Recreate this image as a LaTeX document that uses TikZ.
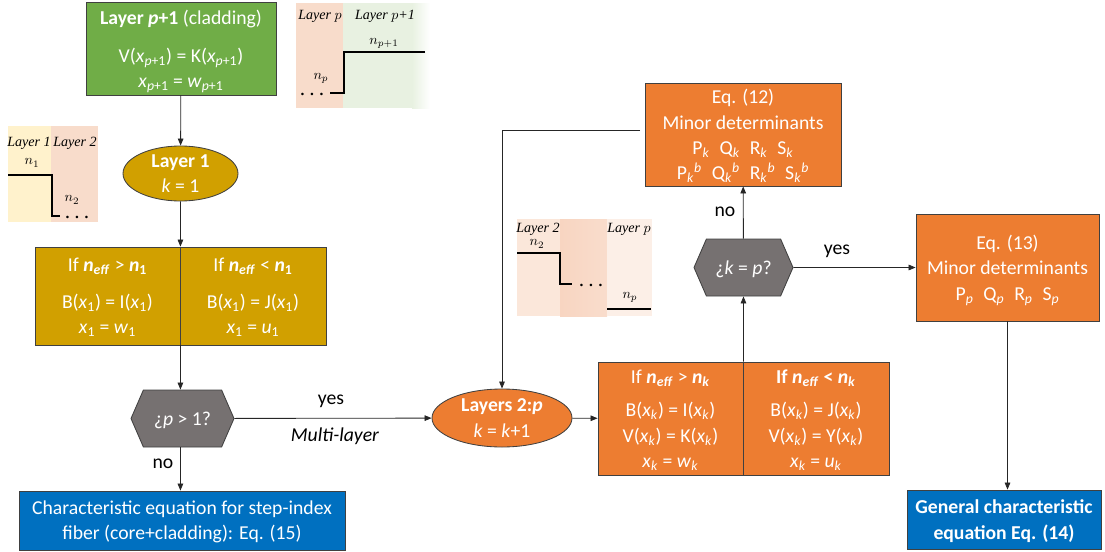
\documentclass[tikz,border=0pt]{standalone}
\usepackage{fontspec}
\setmainfont{Carlito}
\newfontfamily\insetfont{Liberation Serif}
\usetikzlibrary{arrows.meta,shapes.geometric,shapes.symbols}

\definecolor{cladgreen}{HTML}{70AD47}
\definecolor{coregold}{HTML}{D1A000}
\definecolor{layerorange}{HTML}{ED7D31}
\definecolor{askgray}{HTML}{767171}
\definecolor{resultblue}{HTML}{0070C0}
\definecolor{insetsalmon}{HTML}{F8DCCB}
\definecolor{insetgreen}{HTML}{E8F1E1}
\definecolor{insetyellow}{HTML}{FFF2CC}
\definecolor{midleft}{HTML}{FBE7DA}
\definecolor{midcentre}{HTML}{F8D5C1}
\definecolor{midright}{HTML}{FCEFE7}

\newcommand{\pxu}{0.025cm}
\newcommand{\kk}{\textsubscript{\textit{k}}}
\newcommand{\pp}{\textsubscript{\textit{p}}}

\begin{document}
\begin{tikzpicture}[x=0.025cm,y=-0.025cm,
    sized/.style 2 args={minimum width=#1*\pxu, minimum height=#2*\pxu},
    flowbox/.style={draw=black!75, line width=0.6pt, text=white, align=center,
      inner sep=0pt, text depth=0pt, font=\fontsize{14}{18}\selectfont},
    layerball/.style={ellipse, flowbox},
    decision/.style={signal, signal to=east and west, signal pointer angle=133,
      flowbox, fill=askgray},
    conn/.style={draw=black!85, line width=0.6pt, -{Triangle[length=5pt,width=4pt]}},
    flowlabel/.style={inner sep=0pt, font=\fontsize{14}{18}\selectfont},
    insetlabel/.style={inner sep=0pt, font=\fontsize{10}{10}\selectfont\insetfont\itshape},
    indexlabel/.style={inner sep=0pt, font=\fontsize{10}{10}\selectfont},
    dotslabel/.style={inner sep=0pt, anchor=base, font=\fontsize{11}{11}\selectfont\insetfont\bfseries},
    stepline/.style={line width=1.5pt}]
  \useasboundingbox (0,0) rectangle (1105,552);

  % refractive index sketches
  \fill[insetsalmon] (296,3) rectangle (343,108);
  \fill[insetgreen] (343,3) rectangle (412,108);
  \shade[left color=insetgreen,right color=white] (412,3) rectangle (430,108);
  \node[insetlabel] (labp) at (320,16) {Layer $p$};
  \node[insetlabel] (labpp) at (385,16) {Layer $p$+1};
  \node[indexlabel] (npp) at (384,43) {$n_{p+1}$};
  \node[indexlabel] (np) at (321,78) {$n_p$};
  \node[dotslabel] (dotsa) at (312,95) {.\hspace{4pt}.\hspace{4pt}.};
  \draw[stepline] (425,52) -- (344,52) -- (344,93) -- (330,93);

  \fill[insetyellow] (8,126) rectangle (51,222);
  \fill[insetsalmon] (51,126) rectangle (98,222);
  \node[insetlabel] (lab1) at (29,143) {Layer 1};
  \node[insetlabel] (lab2) at (75,143) {Layer 2};
  \node[indexlabel] (n1) at (32,163) {$n_1$};
  \node[indexlabel] (n2) at (72,200) {$n_2$};
  \node[dotslabel] (dotsb) at (77,218) {.\hspace{4pt}.\hspace{4pt}.};
  \draw[stepline] (8,175) -- (52,175) -- (52,216) -- (60,216);

  \fill[midleft] (517,219) rectangle (560,316);
  \shade[left color=midcentre,right color=midcentre!70!midright] (560,219) rectangle (607,316);
  \fill[midright] (607,219) rectangle (652,316);
  \node[insetlabel] (lab2b) at (538,229) {Layer 2};
  \node[insetlabel] (labpb) at (629,229) {Layer $p$};
  \node[indexlabel] (n2b) at (537,244) {$n_2$};
  \node[indexlabel] (npb) at (630,297) {$n_p$};
  \node[dotslabel] (dotsc) at (591,286) {.\hspace{4pt}.\hspace{4pt}.};
  \draw[stepline] (517,253) -- (560,253) -- (560,284) -- (572,284);
  \draw[stepline] (607,309) -- (651,309);

  % first layer and cladding
  \node[flowbox, fill=cladgreen, sized={190}{93}] (clad) at (181,48.5)
    {\textbf{Layer \textit{p}+1} (cladding)\\[9pt]
     V(\textit{x}\textsubscript{\textit{p}+1}) = K(\textit{x}\textsubscript{\textit{p}+1})\\
     \textit{x}\textsubscript{\textit{p}+1} = \textit{w}\textsubscript{\textit{p}+1}};
  \node[layerball, fill=coregold, sized={115}{55}] (one) at (180.5,173.5)
    {\textbf{Layer 1}\\\textit{k} = 1};
  \node[flowbox, fill=coregold, sized={145}{98}] (onegt) at (107.5,296)
    {If \textbf{\textit{n}\textsubscript{\textit{eff}}} > \textbf{\textit{n}\textsubscript{1}}\\[8pt]
     B(\textit{x}\textsubscript{1}) = I(\textit{x}\textsubscript{1})\\
     \textit{x}\textsubscript{1} = \textit{w}\textsubscript{1}};
  \node[flowbox, fill=coregold, sized={146}{98}] (onelt) at (253,296)
    {If \textbf{\textit{n}\textsubscript{\textit{eff}}} < \textbf{\textit{n}\textsubscript{1}}\\[8pt]
     B(\textit{x}\textsubscript{1}) = J(\textit{x}\textsubscript{1})\\
     \textit{x}\textsubscript{1} = \textit{u}\textsubscript{1}};
  \node[decision, sized={103}{57}] (multi) at (182.5,418.5) {¿\textit{p} > 1?};
  \node[flowbox, fill=resultblue, sized={326}{59}] (stepfib) at (182,520.5)
    {Characteristic equation for step-index\\fiber (core+cladding): Eq. (15)};

  % inner layers
  \node[layerball, fill=layerorange, sized={140}{58}] (inner) at (502,418)
    {\textbf{Layers 2:\textit{p}}\\\textit{k} = \textit{k}+1};
  \node[flowbox, fill=layerorange, sized={145}{113}] (kgt) at (670.5,418.5)
    {If \textbf{\textit{n}\textsubscript{\textit{eff}}} > \textbf{\textit{n}\textsubscript{\textit{k}}}\\[6pt]
     B(\textit{x}\kk) = I(\textit{x}\kk)\\
     V(\textit{x}\kk) = K(\textit{x}\kk)\\
     \textit{x}\kk{} = \textit{w}\kk};
  \node[flowbox, fill=layerorange, sized={146}{113}] (klt) at (816,418.5)
    {\textbf{If \textit{n}\textsubscript{\textit{eff}} < \textit{n}\textsubscript{\textit{k}}}\\[6pt]
     B(\textit{x}\kk) = J(\textit{x}\kk)\\
     V(\textit{x}\kk) = Y(\textit{x}\kk)\\
     \textit{x}\kk{} = \textit{u}\kk};
  \node[decision, sized={99}{57}] (last) at (743.5,267.5) {¿\textit{k} = \textit{p}?};
  \node[flowbox, fill=layerorange, sized={196}{103}] (eqminor) at (743,134.5)
    {Eq. (12)\\Minor determinants\\
     P\kk\enspace Q\kk\enspace R\kk\enspace S\kk\\
     P\kk\textsuperscript{\textit{b}}\enspace Q\kk\textsuperscript{\textit{b}}\enspace
     R\kk\textsuperscript{\textit{b}}\enspace S\kk\textsuperscript{\textit{b}}};
  \node[flowbox, fill=layerorange, sized={183}{107}] (eqlast) at (1007.5,267.5)
    {Eq. (13)\\Minor determinants\\
     P\pp\enspace Q\pp\enspace R\pp\enspace S\pp};
  \node[flowbox, fill=resultblue, sized={194}{59}] (general) at (1004,519.5)
    {\textbf{General characteristic}\\\textbf{equation Eq. (14)}};

  % connectors
  \draw[conn] (clad) -- (one);
  \draw[conn] (one) -- (onegt.north east);
  \draw[conn] (onegt.south east) -- (onegt.south east |- multi.north);
  \draw[conn] (onegt.south east |- multi.south) -- (onegt.south east |- stepfib.north);
  \node[flowlabel] (noa) at (163,464) {no};
  \draw[conn] (multi) -- (inner);
  \node[flowlabel] (yesa) at (331,401) {yes};
  \node[flowlabel] (mlayer) at (335,436) {\textit{Multi-layer}};
  \draw[conn] (inner) -- (kgt);
  \draw[conn] (kgt.north east) -- (last);
  \draw[conn] (last) -- (eqminor);
  \node[flowlabel] (nob) at (725,212) {no};
  \draw[conn] (last) -- (eqlast);
  \node[flowlabel] (yesb) at (837,251) {yes};
  \draw[conn] (eqlast.south) -- (eqlast.south |- general.north);
  \coordinate (back) at (640,130);
  \coordinate (turn) at (502,130);
  \draw[conn] (back) -- (turn) -- (inner.north);
\end{tikzpicture}
\end{document}
